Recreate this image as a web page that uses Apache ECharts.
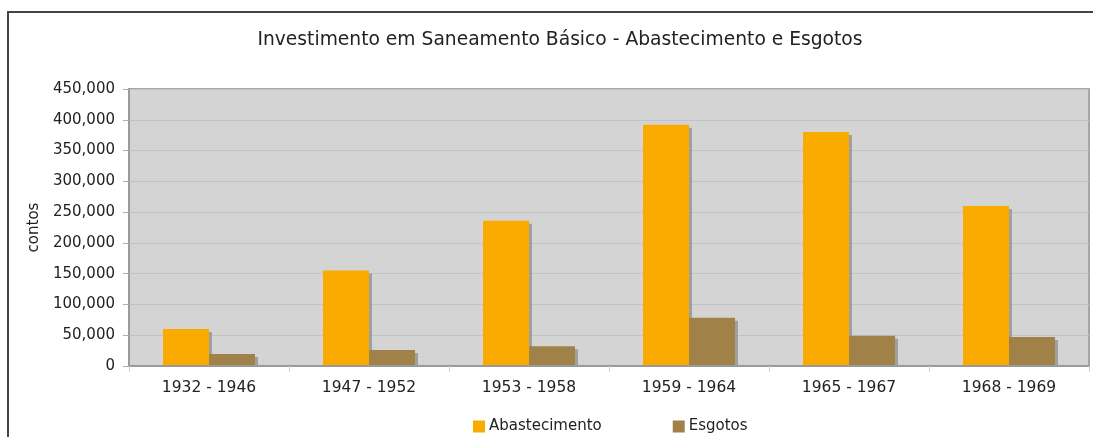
<!DOCTYPE html>
<html><head><meta charset="utf-8">
<script src="https://cdn.jsdelivr.net/npm/echarts@6/dist/echarts.min.js"></script>
<style>html,body{margin:0;padding:0;background:#fff}#c{width:1093px;height:437px}</style>
</head><body><div id="c"></div>
<script>
const categories = ['1932 - 1946','1947 - 1952','1953 - 1958','1959 - 1964','1965 - 1967','1968 - 1969'];
const abastecimento = [60000,155000,236000,392000,380000,260000];
const esgotos = [19500,26000,32000,78500,49000,47000];
const seriesNames = ['Abastecimento','Esgotos'];
const titleText = 'Investimento em Saneamento Básico - Abastecimento e Esgotos';
const yAxisName = 'contos';

const font = 'DejaVu Sans, Verdana, sans-serif';
const chart = echarts.init(document.getElementById('c'), null, {renderer:'canvas'});
const shadow = {shadowColor:'rgba(150,150,150,0.85)', shadowBlur:0, shadowOffsetX:3, shadowOffsetY:3};
chart.setOption({
  animation:false,
  backgroundColor:'#fff',
  graphic:[
    {type:'rect', shape:{x:8,y:12,width:1200,height:600}, style:{fill:'none', stroke:'#444', lineWidth:2}, silent:true, z:-1},
    {type:'rect', shape:{x:125,y:367,width:970,height:6}, style:{fill:'#fff'}, silent:true, z:2, z2:100}
  ],
  title:{text:titleText, left:555, top:26, textAlign:'center',
    textStyle:{fontFamily:font, fontSize:18.7, fontWeight:'normal', color:'#222'}},
  legend:{left:473, top:419, padding:0, itemWidth:12, itemHeight:12, itemGap:71, icon:'rect',
    textStyle:{fontFamily:font, fontSize:15, color:'#222', padding:[0,0,0,-1]},
    data:seriesNames},
  grid:{left:129, right:4, top:89, bottom:71, show:true, backgroundColor:'#d4d4d4', borderColor:'#a6a6a6', borderWidth:2, containLabel:false},
  xAxis:{type:'category', data:categories, z:3,
    axisLine:{lineStyle:{color:'#9a9a9a', width:2}},
    axisTick:{show:true, length:6, lineStyle:{color:'#d0d0d0'}},
    axisLabel:{fontFamily:font, fontSize:15.5, color:'#222', margin:14}},
  yAxis:{type:'value', min:0, max:450000, interval:50000,
    name:yAxisName, nameLocation:'middle', nameGap:78, nameRotate:90,
    nameTextStyle:{fontFamily:font, fontSize:15, color:'#222'},
    axisLine:{show:true, lineStyle:{color:'#9a9a9a', width:2}},
    axisTick:{show:true, length:6, lineStyle:{color:'#b0b0b0'}},
    splitLine:{lineStyle:{color:'#c2c2c2', width:1}},
    axisLabel:{fontFamily:font, fontSize:15, color:'#222', margin:14,
      formatter:v=>v.toLocaleString('en-US')}},
  series:[
    {name:seriesNames[0], type:'bar', data:abastecimento, barGap:'0%', barCategoryGap:'42.5%',
      itemStyle:Object.assign({color:'#FAAB00'}, shadow)},
    {name:seriesNames[1], type:'bar', data:esgotos,
      itemStyle:Object.assign({color:'#A08248'}, shadow)}
  ]
});
</script></body></html>
